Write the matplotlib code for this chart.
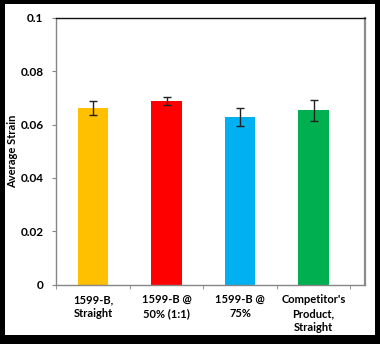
import matplotlib.pyplot as plt
from matplotlib.patches import Rectangle

categories = ["1599-B,\nStraight", "1599-B @\n50% (1:1)", "1599-B @\n75%",
              "Competitor's\nProduct,\nStraight"]
strain = [0.0663, 0.0688, 0.0627, 0.0653]
strain_err = [0.0027, 0.0015, 0.0034, 0.0038]
colors = ['#FFC000', '#FF0000', '#00B0F0', '#00B050']
yticks = [0, 0.02, 0.04, 0.06, 0.08, 0.1]
ytick_labels = ['0', '0.02', '0.04', '0.06', '0.08', '0.1']

plt.rcParams['font.family'] = ['Lato', 'DejaVu Sans']
plt.rcParams['font.weight'] = 'bold'

fig = plt.figure(figsize=(3.8, 3.44), dpi=100, facecolor='black')
# white chart area inside the black frame
fig.patches.append(Rectangle((5 / 380, 9 / 344), 370 / 380, 331 / 344,
                             transform=fig.transFigure, facecolor='white',
                             edgecolor='none', zorder=-1))

ax = fig.add_axes([56 / 380, 59.5 / 344, 309 / 380, 266.5 / 344])
ax.set_zorder(1)
ax.set_facecolor('white')

x = list(range(len(categories)))
ax.bar(x, strain, width=0.41, color=colors, zorder=2)
ax.errorbar(x, strain, yerr=strain_err, fmt='none', ecolor='#222222',
            elinewidth=1, capsize=3, capthick=1, zorder=3)

ax.set_xlim(-0.504, 3.7)
ax.set_ylim(0, 0.1)
ax.set_yticks(yticks)
ax.set_yticklabels(ytick_labels, fontsize=8.5, fontweight='bold')
ax.set_xticks(x)
ax.set_xticklabels(categories, fontsize=8, fontweight='bold', linespacing=1.3)
ax.tick_params(axis='x', length=0, pad=7)
ax.set_xticks([-0.5, 0.5, 1.5, 2.5, 3.5], minor=True)
ax.tick_params(axis='x', which='minor', length=3, color='#868686', direction='out')
ax.tick_params(axis='y', length=3, color='#868686', direction='out', pad=6)

for side in ['left', 'bottom']:
    ax.spines[side].set_color('#868686')
    ax.spines[side].set_linewidth(1)
ax.spines['top'].set_color('#111111')
ax.spines['top'].set_linewidth(1)
ax.spines['right'].set_color('#8c8c8c')
ax.spines['right'].set_linewidth(1.6)

fig.text(13 / 380, 1 - 151 / 344, 'Average Strain', rotation=90,
         ha='center', va='center', fontsize=8, fontweight='bold')

fig.savefig('out.png', dpi=100, facecolor='black')
